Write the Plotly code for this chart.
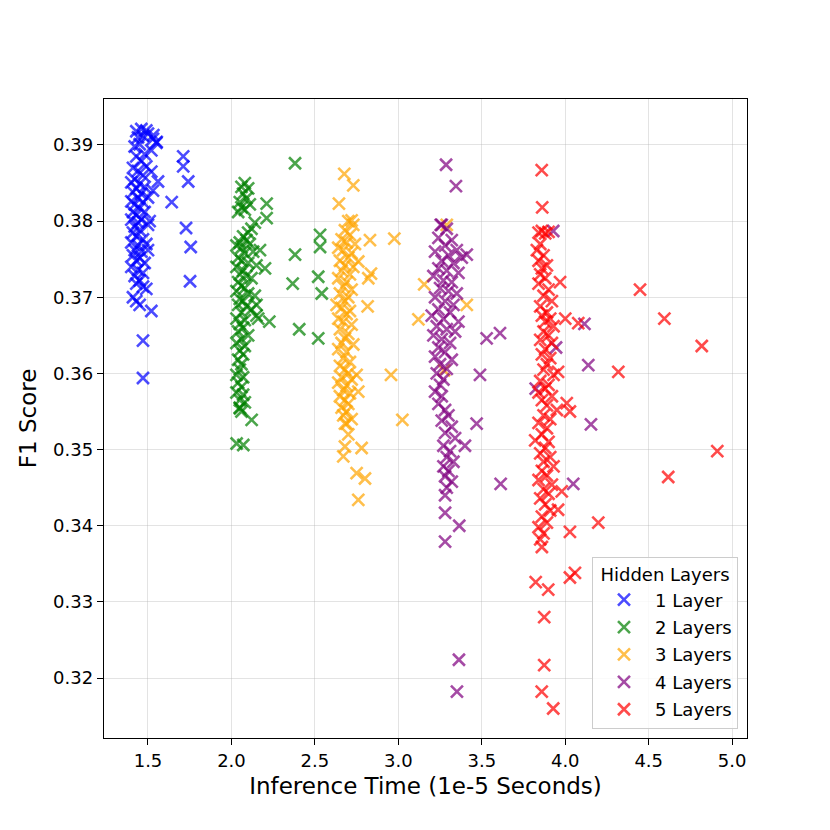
import plotly.graph_objects as go

# inference time (1e-5 s) and F1 score for each hidden-layer count
layer1_time = [1.43, 1.46, 1.49, 1.44, 1.47, 1.50, 1.53, 1.55, 1.42, 1.45, 1.52, 1.48, 1.43, 1.46,
               1.41, 1.44, 1.49, 1.47, 1.42, 1.40, 1.45, 1.43, 1.48, 1.56, 1.41, 1.46, 1.44, 1.40,
               1.42, 1.47, 1.50, 1.45, 1.41, 1.43, 1.48, 1.40, 1.44, 1.46, 1.42, 1.50, 1.41, 1.45,
               1.43, 1.47, 1.40, 1.44, 1.49, 1.42, 1.46, 1.41, 1.45, 1.43, 1.48, 1.40, 1.44, 1.47,
               1.42, 1.45, 1.43, 1.47, 1.49, 1.41, 1.43, 1.45, 1.52, 1.47, 1.47, 1.50, 1.51, 1.53,
               1.52, 1.711, 1.711, 1.741, 1.642, 1.728, 1.756, 1.752, 1.532, 1.552]
layer1_f1 = [0.3918, 0.3921, 0.3919, 0.3910, 0.3912, 0.3915, 0.3908, 0.3903, 0.3898, 0.3901, 0.3893,
             0.3888, 0.3885, 0.3879, 0.3870, 0.3866, 0.3872, 0.3860, 0.3855, 0.3851, 0.3849, 0.3843,
             0.3845, 0.3852, 0.3838, 0.3836, 0.3830, 0.3826, 0.3822, 0.3825, 0.3831, 0.3817, 0.3812,
             0.3808, 0.3812, 0.3802, 0.3798, 0.3802, 0.3793, 0.3795, 0.3785, 0.3788, 0.3780, 0.3776,
             0.3772, 0.3768, 0.3770, 0.3762, 0.3760, 0.3755, 0.3752, 0.3748, 0.3745, 0.3740, 0.3736,
             0.3732, 0.3728, 0.3722, 0.3718, 0.3714, 0.3711, 0.3700, 0.3695, 0.3690, 0.3682, 0.3643,
             0.3594, 0.3762, 0.3800, 0.3840, 0.3865, 0.3885, 0.3872, 0.3852, 0.3825, 0.3791, 0.3766,
             0.3721, 0.3913, 0.3904]

layer2_time = [2.08, 2.06, 2.10, 2.07, 2.09, 2.05, 2.11, 2.06, 2.04, 2.08, 2.12, 2.14, 2.10, 2.07,
               2.09, 2.05, 2.03, 2.06, 2.11, 2.13, 2.08, 2.04, 2.06, 2.10, 2.15, 2.03, 2.07, 2.05,
               2.09, 2.12, 2.04, 2.06, 2.08, 2.03, 2.10, 2.14, 2.05, 2.07, 2.04, 2.09, 2.12, 2.06,
               2.15, 2.03, 2.08, 2.05, 2.07, 2.04, 2.10, 2.06, 2.03, 2.08, 2.05, 2.07, 2.04, 2.06,
               2.05, 2.03, 2.07, 2.04, 2.06, 2.03, 2.07, 2.05, 2.08, 2.05, 2.06, 2.15, 2.16,
               2.381, 2.211, 2.211, 2.381, 2.367, 2.531, 2.531, 2.520, 2.541, 2.201, 2.171, 2.406,
               2.520, 2.227, 2.121, 2.051, 2.071, 2.031]
layer2_f1 = [0.3850, 0.3845, 0.3843, 0.3836, 0.3830, 0.3825, 0.3822, 0.3818, 0.3812, 0.3815, 0.3790,
             0.3798, 0.3785, 0.3780, 0.3775, 0.3772, 0.3768, 0.3765, 0.3770, 0.3760, 0.3758, 0.3752,
             0.3748, 0.3745, 0.3742, 0.3740, 0.3735, 0.3730, 0.3728, 0.3725, 0.3720, 0.3715, 0.3712,
             0.3708, 0.3705, 0.3702, 0.3698, 0.3695, 0.3690, 0.3688, 0.3684, 0.3680, 0.3676, 0.3672,
             0.3670, 0.3665, 0.3660, 0.3655, 0.3650, 0.3645, 0.3640, 0.3636, 0.3630, 0.3625, 0.3618,
             0.3612, 0.3605, 0.3598, 0.3595, 0.3588, 0.3582, 0.3575, 0.3572, 0.3565, 0.3562, 0.3555,
             0.3550, 0.3690, 0.3672, 0.3876, 0.3823, 0.3804, 0.3756, 0.3718, 0.3782, 0.3766, 0.3727,
             0.3705, 0.3738, 0.3762, 0.3658, 0.3646, 0.3668, 0.3539, 0.3554, 0.3506, 0.3508]

layer3_time = [2.70, 2.73, 2.68, 2.71, 2.66, 2.69, 2.74, 2.64, 2.67, 2.72, 2.70, 2.65, 2.68, 2.73,
               2.66, 2.71, 2.64, 2.69, 2.67, 2.72, 2.65, 2.70, 2.68, 2.63, 2.66, 2.71, 2.69, 2.64,
               2.67, 2.72, 2.65, 2.70, 2.68, 2.66, 2.73, 2.64, 2.69, 2.67, 2.71, 2.65, 2.68, 2.70,
               2.66, 2.72, 2.64, 2.69, 2.67, 2.71, 2.65, 2.68, 2.70, 2.66, 2.69, 2.67, 2.72, 2.68,
               2.70, 2.676, 2.730, 2.644, 2.720, 2.830, 2.976, 2.836, 2.820, 3.155, 3.120, 2.816,
               2.760, 2.956, 3.024, 2.780, 2.680, 2.670, 2.750, 2.800, 2.760, 3.290, 3.274, 3.410,
               2.690, 2.760, 2.750]
layer3_f1 = [0.3800, 0.3795, 0.3788, 0.3782, 0.3776, 0.3772, 0.3770, 0.3765, 0.3762, 0.3758, 0.3752,
             0.3748, 0.3742, 0.3740, 0.3735, 0.3730, 0.3725, 0.3720, 0.3714, 0.3710, 0.3705, 0.3700,
             0.3695, 0.3690, 0.3686, 0.3682, 0.3678, 0.3672, 0.3668, 0.3664, 0.3658, 0.3652, 0.3646,
             0.3640, 0.3638, 0.3632, 0.3628, 0.3620, 0.3615, 0.3610, 0.3605, 0.3600, 0.3595, 0.3592,
             0.3588, 0.3584, 0.3578, 0.3574, 0.3570, 0.3565, 0.3560, 0.3555, 0.3550, 0.3545, 0.3540,
             0.3534, 0.3520, 0.3862, 0.3847, 0.3823, 0.3801, 0.3775, 0.3777, 0.3731, 0.3725, 0.3717,
             0.3671, 0.3688, 0.3747, 0.3598, 0.3539, 0.3502, 0.3504, 0.3491, 0.3469, 0.3462, 0.3434,
             0.3795, 0.3604, 0.3690, 0.3534, 0.3576, 0.3598]

layer4_time = [3.26, 3.29, 3.24, 3.32, 3.28, 3.35, 3.22, 3.30, 3.26, 3.33, 3.38, 3.24, 3.29, 3.36,
               3.21, 3.27, 3.32, 3.25, 3.30, 3.35, 3.22, 3.28, 3.33, 3.24, 3.31, 3.20, 3.27, 3.36,
               3.23, 3.29, 3.34, 3.21, 3.26, 3.31, 3.24, 3.28, 3.22, 3.32, 3.25, 3.29, 3.23, 3.27,
               3.25, 3.22, 3.26, 3.24, 3.28, 3.30, 3.26, 3.32, 3.28, 3.34, 3.27, 3.31, 3.29, 3.33,
               3.27, 3.30, 3.28, 3.32, 3.29, 3.28, 3.286, 3.345, 3.410, 3.529, 3.609, 3.254, 3.489,
               3.469, 3.399, 3.613, 3.365, 3.280, 3.280, 3.363, 3.351, 3.928, 4.115, 3.945, 4.138,
               3.823, 4.154, 4.048]
layer4_f1 = [0.3795, 0.3790, 0.3778, 0.3775, 0.3768, 0.3762, 0.3760, 0.3755, 0.3748, 0.3745, 0.3752,
             0.3738, 0.3735, 0.3732, 0.3728, 0.3722, 0.3720, 0.3712, 0.3708, 0.3705, 0.3700, 0.3695,
             0.3690, 0.3684, 0.3680, 0.3676, 0.3672, 0.3668, 0.3662, 0.3658, 0.3655, 0.3650, 0.3645,
             0.3640, 0.3634, 0.3628, 0.3622, 0.3618, 0.3612, 0.3606, 0.3600, 0.3592, 0.3585, 0.3576,
             0.3570, 0.3560, 0.3552, 0.3545, 0.3538, 0.3530, 0.3522, 0.3515, 0.3505, 0.3498, 0.3490,
             0.3484, 0.3478, 0.3472, 0.3465, 0.3458, 0.3450, 0.3440, 0.3874, 0.3846, 0.3756, 0.3646,
             0.3653, 0.3795, 0.3598, 0.3534, 0.3505, 0.3455, 0.3400, 0.3379, 0.3417, 0.3224, 0.3182,
             0.3787, 0.3665, 0.3634, 0.3611, 0.3580, 0.3533, 0.3455]

layer5_time = [3.84, 3.86, 3.88, 3.90, 3.85, 3.83, 3.87, 3.84, 3.89, 3.86, 3.85, 3.88, 3.84, 3.90,
               3.87, 3.92, 3.85, 3.89, 3.86, 3.91, 3.88, 3.93, 3.87, 3.90, 3.85, 3.92, 3.88, 3.86,
               3.91, 3.89, 3.87, 3.93, 3.85, 3.90, 3.88, 3.84, 3.92, 3.86, 3.89, 3.95, 3.87, 3.91,
               3.84, 3.89, 3.86, 3.82, 3.90, 3.88, 3.85, 3.91, 3.87, 3.93, 3.86, 3.89, 3.84, 3.92,
               3.87, 3.90, 3.85, 3.88, 3.91, 3.86, 3.89, 3.84, 3.87, 3.85, 3.86, 3.859, 3.862, 3.969,
               4.000, 4.078, 4.318, 4.028, 4.009, 4.448, 4.594, 4.818, 4.911, 4.617, 4.198, 4.028,
               3.979, 4.058, 4.028, 3.823, 3.898, 3.874, 3.874, 3.859, 3.928, 3.957, 3.957]
layer5_f1 = [0.3785, 0.3787, 0.3784, 0.3786, 0.3770, 0.3762, 0.3755, 0.3748, 0.3742, 0.3738, 0.3730,
             0.3725, 0.3718, 0.3710, 0.3702, 0.3695, 0.3688, 0.3680, 0.3676, 0.3672, 0.3668, 0.3662,
             0.3655, 0.3650, 0.3644, 0.3640, 0.3632, 0.3625, 0.3620, 0.3612, 0.3605, 0.3598, 0.3590,
             0.3585, 0.3580, 0.3575, 0.3570, 0.3565, 0.3558, 0.3552, 0.3545, 0.3540, 0.3535, 0.3528,
             0.3520, 0.3512, 0.3510, 0.3502, 0.3495, 0.3490, 0.3484, 0.3478, 0.3472, 0.3466, 0.3460,
             0.3454, 0.3448, 0.3442, 0.3436, 0.3428, 0.3420, 0.3412, 0.3404, 0.3398, 0.3390, 0.3382,
             0.3372, 0.3867, 0.3818, 0.3720, 0.3672, 0.3666, 0.3602, 0.3550, 0.3561, 0.3710, 0.3672,
             0.3636, 0.3498, 0.3464, 0.3404, 0.3392, 0.3445, 0.3338, 0.3332, 0.3326, 0.3316, 0.3280,
             0.3217, 0.3182, 0.3160, 0.3602, 0.3421]

names = ["1 Layer", "2 Layers", "3 Layers", "4 Layers", "5 Layers"]
colors = ["blue", "green", "orange", "purple", "red"]
times = [layer1_time, layer2_time, layer3_time, layer4_time, layer5_time]
scores = [layer1_f1, layer2_f1, layer3_f1, layer4_f1, layer5_f1]

x_ticks = [1.5, 2.0, 2.5, 3.0, 3.5, 4.0, 4.5, 5.0]
y_ticks = [0.32, 0.33, 0.34, 0.35, 0.36, 0.37, 0.38, 0.39]

fig = go.Figure()
for name, col, xs, ys in zip(names, colors, times, scores):
    fig.add_trace(go.Scatter(
        x=xs, y=ys, mode="markers", name=name, legendgroup=name,
        marker=dict(symbol="x-thin", size=12, color=col, opacity=0.7,
                    line=dict(width=2.6, color=col)),
    ))

axis_style = dict(
    showline=True, linecolor="black", linewidth=1.4, mirror=True,
    ticks="outside", ticklen=6, tickwidth=1.4, tickcolor="black",
    showgrid=True, gridcolor="rgba(176,176,176,0.35)", gridwidth=1,
    zeroline=False, tickfont=dict(size=18, color="black"),
)

# the page body adds 8px on the top and left, so the margins are shifted to compensate
fig.update_layout(
    width=830, height=830,
    margin=dict(l=96, r=91, t=91, b=100),
    paper_bgcolor="white", plot_bgcolor="white",
    font=dict(family="DejaVu Sans", color="black"),
    showlegend=True,
    legend=dict(
        title=dict(text="Hidden Layers", font=dict(size=18), side="top center"),
        font=dict(size=18),
        x=0.986, y=0.014, xanchor="right", yanchor="bottom",
        bgcolor="rgba(255,255,255,0.8)", bordercolor="#cccccc", borderwidth=1,
        tracegroupgap=1, itemwidth=52,
    ),
)
fig.update_xaxes(axis_style, range=[1.2364, 5.089], tickvals=x_ticks, tickformat=".1f",
                 title=dict(text="Inference Time (1e-5 Seconds)", font=dict(size=23), standoff=8))
fig.update_yaxes(axis_style, range=[0.31212, 0.39604], tickvals=y_ticks, tickformat=".2f",
                 title=dict(text="F1 Score", font=dict(size=23), standoff=10))

fig.write_html("out.html")
